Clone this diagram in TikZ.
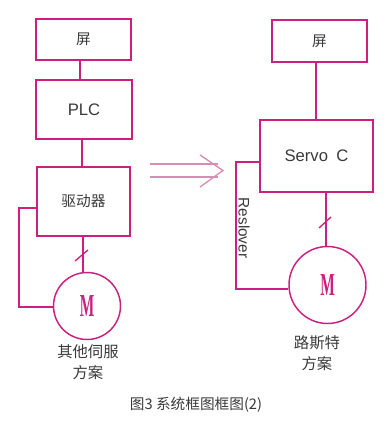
\documentclass[tikz,border=0pt]{standalone}
\usepackage{fontspec}
\setmainfont{Noto Sans CJK SC}
\newfontfamily\mfont{Liberation Serif}
\newfontfamily\lfont{Liberation Sans}
\usetikzlibrary{calc}
\definecolor{mag}{HTML}{CC2080}
\definecolor{lpink}{HTML}{DA8CB4}
\definecolor{txt}{HTML}{3A3A3A}
\tikzset{
  blk/.style={draw=mag, line width=1.4pt, text=txt, font=\fontsize{11}{12}\selectfont, inner sep=0pt},
  wire/.style={draw=mag, line width=1.2pt},
  motor/.style={circle, draw=mag, line width=1.1pt, inner sep=0pt},
  lab/.style={text=txt, font=\fontsize{11.5}{16}\selectfont, align=center},
}
\newcommand{\motorM}{\textcolor{mag}{\scalebox{0.48}[1]{\mfont\bfseries\fontsize{24}{24}\selectfont M}}}
\begin{document}
\begin{tikzpicture}[x=0.75pt,y=-0.75pt]
\useasboundingbox (0,0) rectangle (387,430);
% left column
\node[blk, minimum width=95*0.75pt, minimum height=41*0.75pt] (s1) at (83.5,39.5) {屏};
\node[blk, minimum width=96*0.75pt, minimum height=59*0.75pt] (plc) at (84,109.5) {\lfont\fontsize{12.5}{14}\selectfont PLC};
\node[blk, minimum width=93*0.75pt, minimum height=69*0.75pt] (drv) at (83.5,201.5) {驱动器};
\node[motor, minimum size=67*0.75pt] (m1) at (87,306) {\motorM};
\draw[wire] (s1.south -| 80,0) -- (plc.north -| 80,0);
\draw[wire] (plc.south -| 82,0) -- (drv.north -| 82,0);
\draw[wire] (drv.south -| 83,0) -- (m1.north -| 83,0);
\coordinate (sl1a) at (75,261);
\coordinate (sl1b) at (88,250);
\draw[draw=mag, line width=1pt] (sl1a) -- (sl1b);
\coordinate (f1a) at (19,208);
\coordinate (f1b) at (19,307);
\draw[wire] (drv.west |- f1a) -- (f1a) -- (f1b) -- (m1.west |- f1b);
\node[lab] (l1) at (88,362) {其他伺服\\方案};
% arrow
\coordinate (a1) at (150,164);
\coordinate (a2) at (150,177);
\coordinate (at) at (223,170.5);
\coordinate (aw1) at (200,155);
\coordinate (aw2) at (200,187);
\draw[draw=lpink, line width=1pt] (a1) -- (218,164);
\draw[draw=lpink, line width=1pt] (a2) -- (218,177);
\draw[draw=lpink, line width=1pt] (aw1) -- (at) -- (aw2);
% right column
\node[blk, minimum width=95*0.75pt, minimum height=42*0.75pt] (s2) at (319.5,41) {屏};
\node[blk, minimum width=113*0.75pt, minimum height=72*0.75pt] (srv) at (316.5,156) {\lfont\fontsize{12.5}{14}\selectfont Servo\hspace{0.5em}C};
\node[motor, minimum size=77*0.75pt] (m2) at (327.5,285) {\motorM};
\draw[wire] (s2.south -| 316,0) -- (srv.north -| 316,0);
\draw[wire] (srv.south -| 326,0) -- (m2.north -| 326,0);
\coordinate (sl2a) at (319,228);
\coordinate (sl2b) at (331,217);
\draw[draw=mag, line width=1pt] (sl2a) -- (sl2b);
\coordinate (f2a) at (236,162);
\coordinate (f2b) at (236,289);
\draw[wire] (srv.west |- f2a) -- (f2a) -- (f2b) -- (m2.west |- f2b);
\node[text=txt, font=\lfont\fontsize{11.5}{12}\selectfont, rotate=-90] (res) at (244,228) {Reslover};
\node[lab] (l2) at (317,353) {路斯特\\方案};
% caption
\node[text=txt, font=\fontsize{11}{12}\selectfont] (cap) at (196,405) {图3 系统框图框图(2)};
\end{tikzpicture}
\end{document}
